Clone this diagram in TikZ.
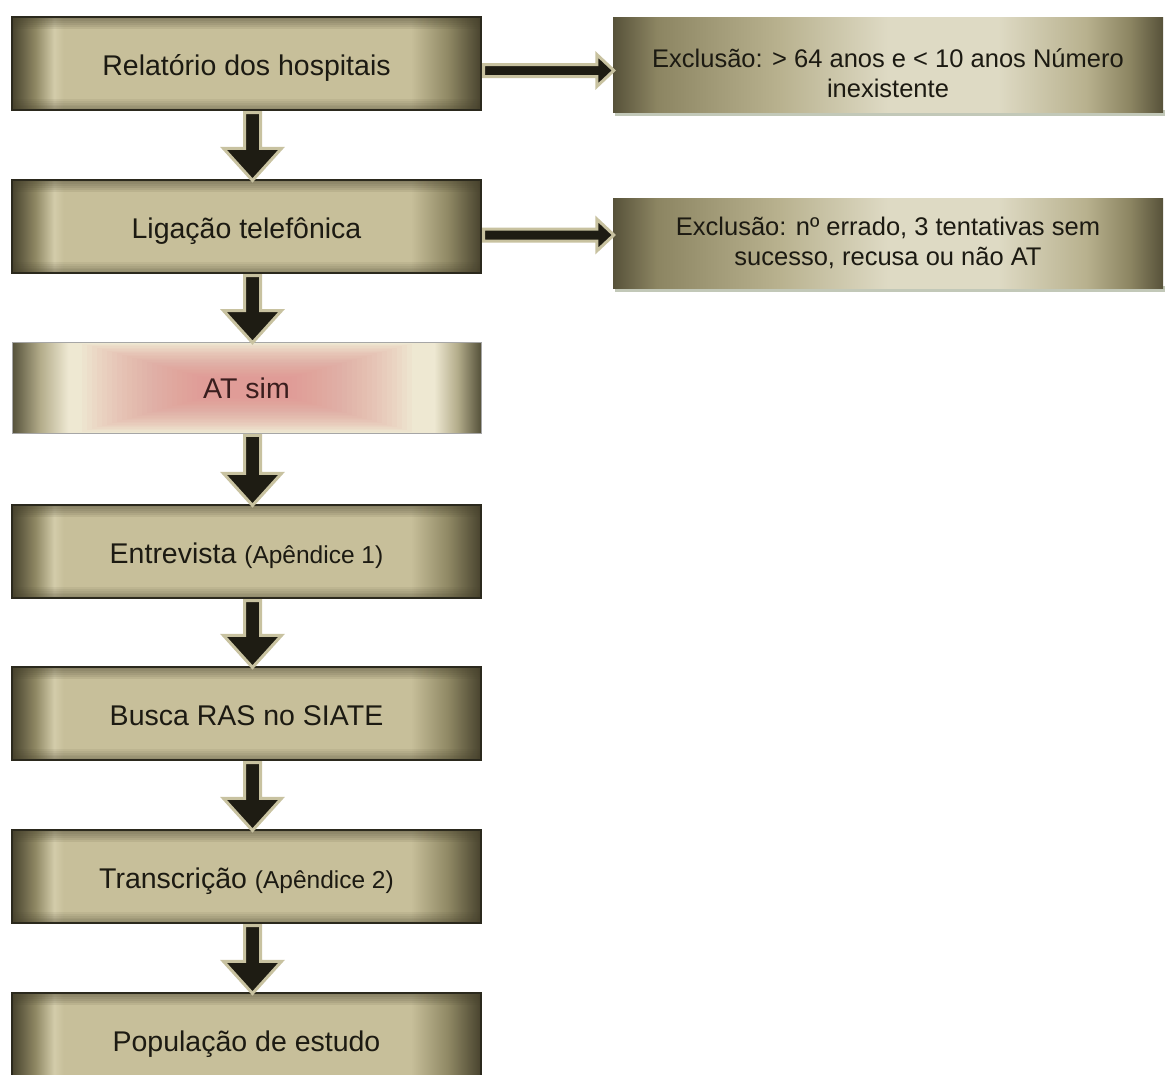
\documentclass[tikz,border=0pt]{standalone}
\usepackage{fontspec}
\setmainfont{Liberation Sans}
\usetikzlibrary{calc}
\definecolor{kdark}{HTML}{48432E}
\definecolor{kmid}{HTML}{8F8864}
\definecolor{klight}{HTML}{C7BF9A}
\definecolor{khigh}{HTML}{D3CCAA}
\definecolor{kborder}{HTML}{2B291D}
\definecolor{rdark}{HTML}{57523A}
\definecolor{rmid}{HTML}{8C8562}
\definecolor{rmid2}{HTML}{B8B18E}
\definecolor{rlight}{HTML}{DEDAC4}
\definecolor{cream}{HTML}{EEE8D2}
\definecolor{adark}{HTML}{55513A}
\definecolor{amid}{HTML}{B3AC8A}
\definecolor{pinkc}{HTML}{E08A8A}
\definecolor{arrdark}{HTML}{1E1C13}
\definecolor{arrlight}{HTML}{C8C2A0}
\definecolor{txt}{HTML}{1C1A12}
\definecolor{attxt}{HTML}{3A1E1E}
\definecolor{shadowc}{HTML}{C2C8B8}
\pgfdeclarehorizontalshading{leftbox}{100bp}{color(0bp)=(kdark); color(25bp)=(kdark); color(27.5bp)=(kmid); color(29.5bp)=(khigh); color(30.5bp)=(klight); color(67.5bp)=(klight); color(71.5bp)=(kmid); color(75bp)=(kdark); color(100bp)=(kdark)}
\pgfdeclarehorizontalshading{rightbox}{100bp}{color(0bp)=(rdark); color(25bp)=(rdark); color(29bp)=(rmid); color(40bp)=(rmid2); color(50bp)=(rlight); color(60bp)=(rlight); color(68bp)=(rmid2); color(72bp)=(rmid); color(75bp)=(rdark); color(100bp)=(rdark)}
\pgfdeclarehorizontalshading{atbox}{100bp}{color(0bp)=(adark); color(25bp)=(adark); color(28bp)=(amid); color(31bp)=(cream); color(70bp)=(cream); color(72.5bp)=(amid); color(75bp)=(adark); color(100bp)=(adark)}
\tikzset{
  leftbox/.style={minimum width=469pt, minimum height=93pt, inner sep=0pt,
    text height=23pt, text depth=0pt,
    shade, shading=leftbox, draw=kborder, line width=1.2pt, text=txt,
    font=\fontsize{28.5}{32}\selectfont,
    path picture={
      \foreach \i in {1,...,6}{
        \fill[kdark,opacity=0.1] (path picture bounding box.north west) rectangle ($(path picture bounding box.north east)+(0,2*\i)$);
        \fill[kdark,opacity=0.08] (path picture bounding box.south west) rectangle ($(path picture bounding box.south east)+(0,-1.8*\i)$);
      }}},
  atbox/.style={minimum width=469pt, minimum height=91pt, inner sep=0pt,
    text height=22pt, text depth=0pt,
    shade, shading=atbox, draw=gray!70, line width=0.8pt, text=attxt,
    font=\fontsize{28.5}{32}\selectfont,
    path picture={
      \foreach \k in {0,...,24}{
        \fill[pinkc,opacity=0.05] ($(path picture bounding box.center)+({-165+5*\k},{-44+1.4*\k})$) rectangle ($(path picture bounding box.center)+({165-5*\k},{44-1.4*\k})$);
      }}},
  rightbox/.style={minimum width=550pt, inner sep=0pt, shade, shading=rightbox,
    text=txt, align=center, font=\fontsize{25.5}{30}\selectfont},
  bigarrow/.style={fill=arrdark, draw=arrlight, line width=3pt, line join=miter},
  shadowbar/.style={fill=shadowc}
}
\newcommand\vArrow[2]{%
  \draw[bigarrow] ($(#1.south)+(-2,2)$) -- ($(#2.north)+(-2,-31)$) -- ($(#2.north)+(-23,-31)$) -- ($(#2.north)+(6,1)$) -- ($(#2.north)+(35,-31)$) -- ($(#2.north)+(14,-31)$) -- ($(#1.south)+(14,2)$) -- cycle;}
\begin{document}
\begin{tikzpicture}[x=1pt,y=-1pt]
\clip (0,0) rectangle (1165,1074);
\useasboundingbox (0,0) rectangle (1165,1074);
\fill[white] (0,0) rectangle (1165,1074);

\node[leftbox] (b1) at (246.5,63.5) {Relatório dos hospitais};
\node[leftbox] (b2) at (246.5,226.5) {Ligação telefônica};
\node[atbox] (b3) at (246.5,387.5) {AT sim};
\node[leftbox] (b4) at (246.5,551.5) {Entrevista {\fontsize{24.5}{28}\selectfont (Apêndice 1)}};
\node[leftbox] (b5) at (246.5,713.5) {Busca RAS no SIATE};
\node[leftbox] (b6) at (246.5,876.5) {Transcrição {\fontsize{24.5}{28}\selectfont (Apêndice 2)}};
\node[leftbox] (b7) at (246.5,1039.5) {População de estudo};

\fill[shadowbar] (615,110) rectangle (1165,116);
\fill[shadowbar] (615,286) rectangle (1165,292);
\node[rightbox, minimum height=95pt] (rA) at (888,64.5) {\raisebox{-12pt}[\height][\depth]{\begin{tabular}{@{}c@{}}Exclusão: > 64 anos e < 10 anos Número\\inexistente\end{tabular}}};
\node[rightbox, minimum height=90pt] (rB) at (888,243) {Exclusão: nº errado, 3 tentativas sem\\sucesso, recusa ou não AT};

\vArrow{b1}{b2}
\vArrow{b2}{b3}
\vArrow{b3}{b4}
\vArrow{b4}{b5}
\vArrow{b5}{b6}
\vArrow{b6}{b7}

\draw[bigarrow] ($(b1.east)+(2,1)$) -- ($(rA.west)+(-16,0)$) -- ($(rA.west)+(-16,-10)$) -- ($(rA.west)+(1,6)$) -- ($(rA.west)+(-16,22)$) -- ($(rA.west)+(-16,12)$) -- ($(b1.east)+(2,13)$) -- cycle;
\draw[bigarrow] ($(b2.east)+(2,2.5)$) -- ($(rB.west)+(-16,-14)$) -- ($(rB.west)+(-16,-24)$) -- ($(rB.west)+(1,-8)$) -- ($(rB.west)+(-16,8)$) -- ($(rB.west)+(-16,-2)$) -- ($(b2.east)+(2,14.5)$) -- cycle;
\end{tikzpicture}
\end{document}
